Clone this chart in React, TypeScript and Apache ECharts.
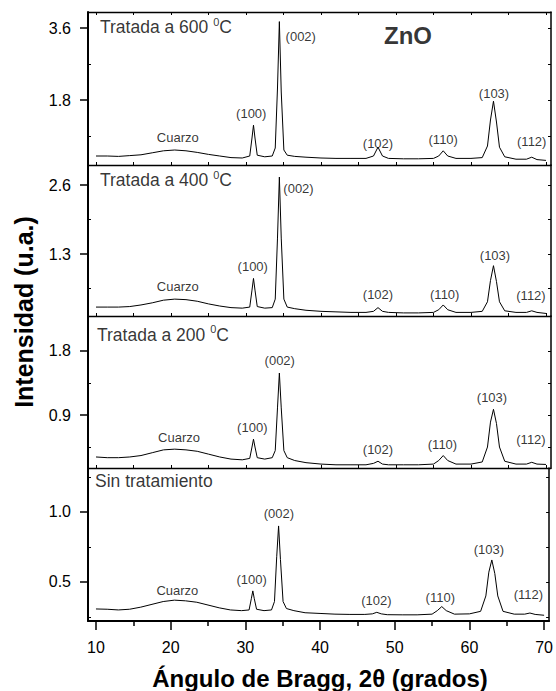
import React, { useEffect, useRef } from "react";
import * as echarts from "echarts";

// 2θ positions (degrees)
const X = [10, 11.5, 13, 14.5, 16, 17.5, 19, 20.5, 22, 23.5, 25, 26.5, 28, 29.5, 30.5, 30.8, 31.0, 31.2, 31.5, 32.5, 33.5, 33.9, 34.2, 34.45, 34.7, 35.05, 35.5, 36.5, 38, 40, 42, 44, 46, 47.0, 47.6, 48.2, 49, 51, 53, 55, 55.7, 56.3, 56.9, 58, 60, 61.5, 62.2, 62.6, 63.0, 63.4, 63.8, 64.5, 66, 67.4, 68.1, 68.8, 70];

// Intensities (u.a.)
const Y600 = [0.40, 0.40, 0.39, 0.41, 0.43, 0.48, 0.53, 0.55, 0.53, 0.49, 0.44, 0.40, 0.36, 0.35, 0.40, 0.85, 1.17, 0.85, 0.42, 0.38, 0.40, 0.60, 2.1, 3.76, 2.0, 0.55, 0.42, 0.39, 0.37, 0.35, 0.34, 0.34, 0.34, 0.40, 0.62, 0.40, 0.34, 0.33, 0.33, 0.34, 0.40, 0.53, 0.40, 0.34, 0.34, 0.36, 0.65, 1.30, 1.77, 1.25, 0.62, 0.38, 0.32, 0.32, 0.37, 0.31, 0.29];
const Y400 = [0.30, 0.30, 0.30, 0.31, 0.34, 0.38, 0.43, 0.45, 0.44, 0.41, 0.36, 0.32, 0.29, 0.28, 0.30, 0.62, 0.84, 0.62, 0.31, 0.28, 0.29, 0.45, 1.6, 2.75, 1.6, 0.45, 0.30, 0.27, 0.24, 0.22, 0.21, 0.20, 0.20, 0.22, 0.29, 0.22, 0.20, 0.19, 0.19, 0.20, 0.25, 0.34, 0.25, 0.20, 0.20, 0.22, 0.40, 0.80, 1.08, 0.78, 0.40, 0.23, 0.20, 0.20, 0.23, 0.20, 0.18];
const Y200 = [0.31, 0.30, 0.30, 0.31, 0.33, 0.37, 0.41, 0.42, 0.41, 0.39, 0.35, 0.31, 0.28, 0.27, 0.29, 0.45, 0.56, 0.45, 0.30, 0.28, 0.30, 0.40, 1.0, 1.49, 1.0, 0.40, 0.30, 0.26, 0.23, 0.21, 0.20, 0.20, 0.20, 0.22, 0.25, 0.21, 0.20, 0.20, 0.20, 0.21, 0.26, 0.33, 0.26, 0.21, 0.21, 0.24, 0.45, 0.80, 0.98, 0.78, 0.45, 0.25, 0.21, 0.21, 0.235, 0.21, 0.205];
const Y000 = [0.307, 0.305, 0.30, 0.305, 0.32, 0.34, 0.36, 0.37, 0.365, 0.355, 0.335, 0.315, 0.30, 0.295, 0.30, 0.38, 0.436, 0.38, 0.305, 0.295, 0.30, 0.36, 0.68, 0.90, 0.66, 0.36, 0.31, 0.295, 0.28, 0.275, 0.27, 0.268, 0.268, 0.272, 0.283, 0.272, 0.266, 0.265, 0.265, 0.27, 0.295, 0.324, 0.295, 0.27, 0.272, 0.29, 0.40, 0.57, 0.657, 0.56, 0.40, 0.29, 0.27, 0.27, 0.278, 0.268, 0.262];
const SERIES = [Y600, Y400, Y200, Y000];

// Panel titles
const titleMain = ["Tratada a 600 ", "Tratada a 400 ", "Tratada a 200 ", "Sin tratamiento"];
const titleSup = ["0", "0", "0", ""];
const titleTail = ["C", "C", "C", ""];
const titleX = [10.53, 10.53, 10.13, 9.87];
const titleY = [3.625, 2.69, 2.025, 1.221];

// Peak labels
const peakNames = ["Cuarzo", "(100)", "(002)", "(102)", "(110)", "(103)", "(112)"];
const peakX = [
  [20.9, 30.7, 37.3, 47.6, 56.3, 63.07, 68.1],
  [20.9, 30.9, 37.0, 47.6, 56.5, 63.2, 68.0],
  [21.07, 30.84, 34.5, 47.6, 56.2, 62.8, 68.0],
  [20.9, 30.84, 34.5, 47.55, 56.1, 62.6, 67.9],
];
const peakY = [
  [0.875, 1.475, 3.4, 0.725, 0.825, 1.975, 0.775],
  [0.684, 1.06, 2.54, 0.53, 0.546, 1.28, 0.51],
  [0.58, 0.72, 1.66, 0.42, 0.49, 1.15, 0.55],
  [0.438, 0.514, 0.99, 0.371, 0.39, 0.733, 0.407],
];

// Axes
const xMin = 8.933;
const xMax = 70.67;
const xMajor = [10, 20, 30, 40, 50, 60, 70];
const xMinor = [15, 25, 35, 45, 55, 65];
const xFine = [10, 15, 20, 25, 30, 35, 40, 45, 50, 55, 60, 65, 70];
const yMin = [0.175, 0.132, 0.155, 0.221];
const yMax = [4.0, 2.977, 2.292, 1.314];
const yMajor = [[1.8, 3.6], [1.3, 2.6], [0.9, 1.8], [0.5, 1.0]];
const yMinor = [[0.9, 2.7], [0.65, 1.95], [0.45, 1.35], [0.25, 0.75, 1.25]];

const FONT = "'Liberation Sans', Arial, sans-serif";

export default function App() {
  const ref = useRef<HTMLDivElement>(null);
  useEffect(() => {
    if (!ref.current) return;
    const chart = echarts.init(ref.current, null, { renderer: "svg" });
    const gridTops = [12, 165, 316, 468];
    const gridHeights = [153, 151, 152, 153];
    const grids = gridTops.map((t, i) => ({ left: 88, right: 5, top: t, height: gridHeights[i], containLabel: false }));

    const xAxes: any[] = [];
    const yAxes: any[] = [];
    const series: any[] = [];
    const black = "#000";

    for (let i = 0; i < 4; i++) {
      const last = i === 3;
      const xMainIdx = xAxes.length;
      xAxes.push({
        type: "value", gridIndex: i, position: "bottom", min: xMin, max: xMax,
        axisLine: { show: true, onZero: false, lineStyle: { color: black, width: last ? 2 : 1.3 } },
        axisTick: last
          ? { show: true, inside: false, length: 9, customValues: xMajor, lineStyle: { color: black, width: 1.5 } }
          : { show: true, inside: true, length: 3, customValues: xFine, lineStyle: { color: black, width: 1 } },
        axisLabel: last
          ? { show: true, customValues: xMajor, fontSize: 16, color: black, fontFamily: FONT, margin: 18 }
          : { show: false },
        splitLine: { show: false },
      });
      if (last) {
        xAxes.push({
          type: "value", gridIndex: i, position: "bottom", min: xMin, max: xMax,
          axisLine: { show: false, onZero: false },
          axisTick: { show: true, inside: false, length: 5, customValues: xMinor, lineStyle: { color: black, width: 1.5 } },
          axisLabel: { show: false }, splitLine: { show: false },
        });
      }
      if (i === 0) {
        xAxes.push({
          type: "value", gridIndex: i, position: "top", min: xMin, max: xMax,
          axisLine: { show: true, onZero: false, lineStyle: { color: black, width: 1.3 } },
          axisTick: { show: true, inside: true, length: 3, customValues: xFine, lineStyle: { color: black, width: 1 } },
          axisLabel: { show: false }, splitLine: { show: false },
        });
      }
      const yMainIdx = yAxes.length;
      yAxes.push({
        type: "value", gridIndex: i, position: "left", min: yMin[i], max: yMax[i],
        axisLine: { show: true, onZero: false, lineStyle: { color: black, width: 2 } },
        axisTick: { show: true, inside: false, length: 8, customValues: yMajor[i], lineStyle: { color: black, width: 1.5 } },
        axisLabel: { show: true, customValues: yMajor[i], fontSize: 16, color: black, fontFamily: FONT, margin: 17, formatter: (v: number) => v.toFixed(1) },
        splitLine: { show: false },
      });
      yAxes.push({
        type: "value", gridIndex: i, position: "left", min: yMin[i], max: yMax[i],
        axisLine: { show: false, onZero: false },
        axisTick: { show: true, inside: true, length: 3, customValues: yMinor[i], lineStyle: { color: black, width: 1 } },
        axisLabel: { show: false }, splitLine: { show: false },
      });
      yAxes.push({
        type: "value", gridIndex: i, position: "right", min: yMin[i], max: yMax[i],
        axisLine: { show: true, onZero: false, lineStyle: { color: black, width: 1.5 } },
        axisTick: { show: true, inside: true, length: 3, customValues: [...yMajor[i], ...yMinor[i]], lineStyle: { color: black, width: 1 } },
        axisLabel: { show: false }, splitLine: { show: false },
      });

      series.push({
        type: "line", xAxisIndex: xMainIdx, yAxisIndex: yMainIdx,
        data: X.map((x, k) => [x, SERIES[i][k]]),
        showSymbol: false, symbol: "none",
        lineStyle: { color: black, width: 1 },
        silent: true,
      });

      const labelData: any[] = peakNames.map((n, k) => ({ name: n, value: [peakX[i][k], peakY[i][k]] }));
      series.push({
        type: "scatter", xAxisIndex: xMainIdx, yAxisIndex: yMainIdx,
        data: labelData, symbolSize: 1, itemStyle: { color: "transparent" },
        label: { show: true, position: "inside", formatter: "{b}", color: black, fontSize: 13, fontFamily: FONT },
        silent: true,
      });

      const sup = titleSup[i] ? `{s|${titleSup[i]}}{a|${titleTail[i]}}` : "";
      const titleData: any[] = [{ name: "t", value: [titleX[i], titleY[i]] }];
      if (i === 0) titleData.push({ name: "ZnO", value: [51.6, 3.425], label: { formatter: "{z|ZnO}", align: "center" } });
      series.push({
        type: "scatter", xAxisIndex: xMainIdx, yAxisIndex: yMainIdx,
        data: titleData, symbolSize: 1, itemStyle: { color: "transparent" },
        label: {
          show: true, position: "inside", align: "left", verticalAlign: "middle",
          formatter: `{a|${titleMain[i]}}${sup}`,
          rich: {
            a: { fontSize: 17.5, fontFamily: FONT, color: black, lineHeight: 22 },
            s: { fontSize: 11, fontFamily: FONT, color: black, lineHeight: 11, verticalAlign: "top" },
            z: { fontSize: 24, fontWeight: "bold", fontFamily: FONT, color: black },
          },
        },
        silent: true,
      });
    }

    chart.setOption({
      animation: false,
      backgroundColor: "#fff",
      grid: grids,
      xAxis: xAxes,
      yAxis: yAxes,
      series,
      graphic: [
        {
          type: "text", x: 24, y: 312, rotation: Math.PI / 2,
          style: { text: "Intensidad (u.a.)", fontSize: 25, fontWeight: "bold", fontFamily: FONT, fill: black, align: "center", verticalAlign: "middle" },
        },
        {
          type: "text", x: 320, y: 678,
          style: { text: "Ángulo de Bragg, 2θ (grados)", fontSize: 24, fontWeight: "bold", fontFamily: FONT, fill: black, align: "center", verticalAlign: "middle" },
        },
      ],
    });
    return () => chart.dispose();
  }, []);
  return <div ref={ref} style={{ position: "absolute", left: 0, top: 0, width: 556, height: 691 }} />;
}
